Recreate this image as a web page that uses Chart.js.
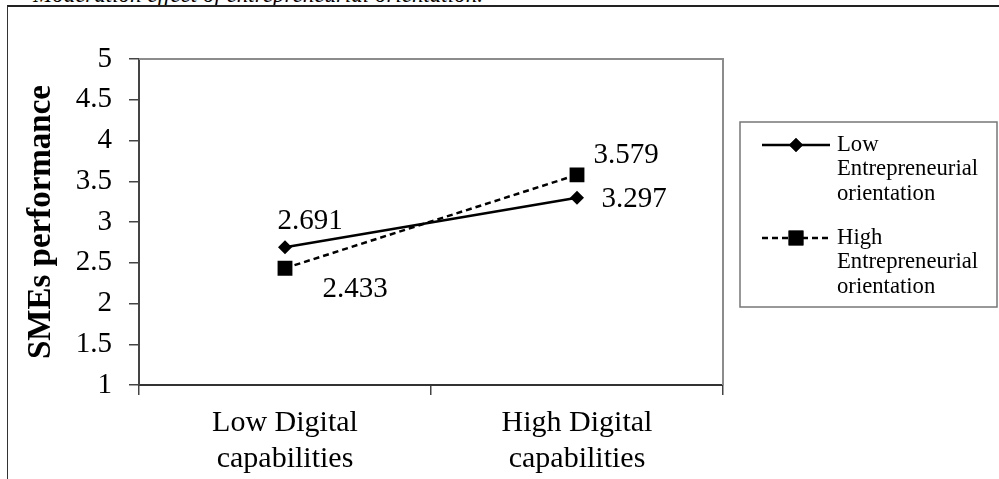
<!DOCTYPE html>
<html><head><meta charset="utf-8">
<script src="https://cdn.jsdelivr.net/npm/chart.js@4/dist/chart.umd.min.js"></script>
<style>
html,body{margin:0;padding:0;background:#fff;width:999px;height:479px;overflow:hidden;position:relative;}
#frame{position:absolute;left:7px;top:5px;width:992px;height:474px;border-left:1.5px solid #333;border-top:2px solid #222;box-sizing:border-box;}
#cap{position:absolute;left:33px;top:-17px;font:italic 23px/23px "Liberation Serif";white-space:nowrap;color:#000;}
canvas{position:absolute;left:0;top:0;}
</style></head><body>
<div id="cap">Moderation effect of entrepreneurial orientation.</div>
<div id="frame"></div>
<canvas id="c" width="999" height="479"></canvas>
<script>
const categories = [['Low Digital', 'capabilities'], ['High Digital', 'capabilities']];
const lowEO = [2.691, 3.297];
const highEO = [2.433, 3.579];
const seriesNames = ['Low Entrepreneurial orientation', 'High Entrepreneurial orientation'];
const legendLines = [['Low', 'Entrepreneurial', 'orientation'], ['High', 'Entrepreneurial', 'orientation']];
const yMin = 1, yMax = 5, yStep = 0.5;
const yTitle = 'SMEs performance';
const captionText = 'Moderation effect of entrepreneurial orientation.';

const SERIF = '"Liberation Serif", "Times New Roman", serif';

const frameLines = {
  id: 'frameLines',
  afterDraw(chart) {
    const {ctx, chartArea: a} = chart;
    ctx.save();
    ctx.strokeStyle = '#8c8c8c';
    ctx.lineWidth = 2;
    ctx.beginPath();
    ctx.moveTo(a.left, a.top);
    ctx.lineTo(a.right, a.top);
    ctx.lineTo(a.right, a.bottom);
    ctx.stroke();
    ctx.restore();
  }
};

const valueLabels = {
  id: 'valueLabels',
  afterDatasetsDraw(chart) {
    const {ctx} = chart;
    // label offsets relative to each point: [dataset][point] = [dx, dy]
    const off = [[[25, -26], [57, 2]], [[70, 21], [49, -19]]];
    ctx.save();
    ctx.font = '29px ' + SERIF;
    ctx.fillStyle = '#000';
    ctx.textAlign = 'center';
    ctx.textBaseline = 'middle';
    chart.data.datasets.forEach((ds, i) => {
      const meta = chart.getDatasetMeta(i);
      meta.data.forEach((pt, j) => {
        ctx.fillText(ds.data[j].toFixed(3), pt.x + off[i][j][0], pt.y + off[i][j][1]);
      });
    });
    ctx.restore();
  }
};

const boxLegend = {
  id: 'boxLegend',
  afterDraw(chart) {
    const {ctx} = chart;
    const bx = 740, by = 122, bw = 257, bh = 185;
    ctx.save();
    ctx.strokeStyle = '#777';
    ctx.lineWidth = 1.5;
    ctx.strokeRect(bx, by, bw, bh);
    ctx.font = '22.7px ' + SERIF;
    ctx.fillStyle = '#000';
    ctx.textAlign = 'left';
    ctx.textBaseline = 'middle';
    const itemY = [145, 238];
    chart.data.datasets.forEach((ds, i) => {
      const y = itemY[i];
      ctx.save();
      ctx.strokeStyle = ds.borderColor;
      ctx.lineWidth = ds.borderWidth;
      ctx.setLineDash(ds.borderDash || []);
      ctx.beginPath();
      ctx.moveTo(762, y);
      ctx.lineTo(830, y);
      ctx.stroke();
      ctx.restore();
      Chart.helpers.drawPoint(ctx, {
        pointStyle: ds.pointStyle, radius: ds.pointRadius, borderWidth: 0, rotation: 0
      }, 796, y);
      ctx.fillStyle = '#000';
      ctx.fill();
      legendLines[i].forEach((t, k) => ctx.fillText(t, 837, y + k * 24.5));
    });
    ctx.restore();
  }
};

new Chart(document.getElementById('c'), {
  type: 'line',
  data: {
    labels: categories,
    datasets: [
      {
        label: seriesNames[0], data: lowEO,
        borderColor: '#000', backgroundColor: '#000', borderWidth: 2.5,
        pointStyle: 'rectRot', pointRadius: 7, pointBorderWidth: 0,
        pointBackgroundColor: '#000', tension: 0
      },
      {
        label: seriesNames[1], data: highEO,
        borderColor: '#000', backgroundColor: '#000', borderWidth: 2.5, borderDash: [6, 4],
        pointStyle: 'rect', pointRadius: 10.5, pointBorderWidth: 0,
        pointBackgroundColor: '#000', tension: 0
      }
    ]
  },
  options: {
    responsive: false,
    animation: false,
    devicePixelRatio: 1,
    layout: {padding: {left: 0, top: 59, right: 276, bottom: 0}},
    plugins: {legend: {display: false}, tooltip: {enabled: false}, title: {display: false}},
    scales: {
      x: {
        type: 'category',
        offset: true,
        afterFit(s) { s.height = 94; },
        grid: {offset: true, drawOnChartArea: false, drawTicks: true, tickLength: 10, color: '#444', lineWidth: 1.5},
        border: {display: true, color: '#333', width: 2},
        ticks: {font: {family: SERIF, size: 30}, color: '#000', padding: 10, maxRotation: 0, autoSkip: false}
      },
      y: {
        min: yMin, max: yMax,
        afterFit(s) { s.width = 139; },
        ticks: {
          stepSize: yStep, font: {family: SERIF, size: 29}, color: '#000', padding: 17,
          callback: v => String(v)
        },
        grid: {drawOnChartArea: false, drawTicks: true, tickLength: 10, color: '#444', lineWidth: 1.5},
        border: {display: true, color: '#444', width: 2},
        title: {display: true, text: yTitle, color: '#000', font: {family: SERIF, size: 33, weight: 'bold', lineHeight: 1.2}, padding: {top: 22, bottom: 0}}
      }
    }
  },
  plugins: [frameLines, valueLabels, boxLegend]
});
</script>
</body></html>
